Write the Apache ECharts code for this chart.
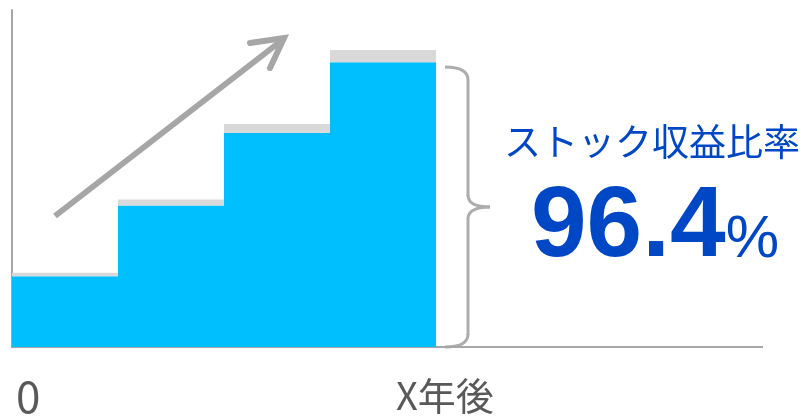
<!DOCTYPE html>
<html>
<head>
<meta charset="utf-8">
<script src="https://cdn.jsdelivr.net/npm/echarts@6/dist/echarts.min.js"></script>
<style>
  html, body { margin: 0; padding: 0; background: #fff; }
  #main { width: 807px; height: 420px; }
</style>
</head>
<body>
<div id="main"></div>
<script>
// steps (only the first 4 bands are filled, the rest keeps the axis long)
const categories = ['1', '2', '3', '4', '', '', ''];
const stockValues = [21, 42, 63.5, 84.5];
const capValues = [1, 1.8, 2.7, 3.6];
const xLabels = ['0', 'X年後'];
const caption = 'ストック収益比率';
const rateValue = '96.4';

const gray = '#A6A6A6';
const braceGray = '#ADADAD';
const blue = '#0047C6';
const cyan = '#00BFFF';
const capGray = '#D9D9D9';

function curve(x1, y1, cx, cy, x2, y2) {
    return {
        type: 'bezierCurve',
        shape: { x1: x1, y1: y1, cpx1: cx, cpy1: cy, x2: x2, y2: y2 },
        style: { stroke: braceGray, lineWidth: 3, fill: null }
    };
}
function seg(x1, y1, x2, y2, color, w) {
    return { type: 'line', shape: { x1: x1, y1: y1, x2: x2, y2: y2 }, style: { stroke: color, lineWidth: w } };
}

const chart = echarts.init(document.getElementById('main'));

chart.setOption({
    animation: false,
    // 7 bands of 106px so the step edges fall on whole pixels
    grid: { left: 12, right: 53, top: 10, bottom: 73 },
    xAxis: {
        type: 'category',
        data: categories,
        axisLine: { lineStyle: { color: gray, width: 2 } },
        axisTick: { show: false },
        axisLabel: { show: false }
    },
    yAxis: {
        type: 'value',
        min: 0,
        max: 100,
        axisLine: { show: true, lineStyle: { color: gray, width: 2 } },
        axisLabel: { show: false },
        axisTick: { show: false },
        splitLine: { show: false }
    },
    series: [
        {
            type: 'bar',
            stack: 's',
            data: stockValues,
            barWidth: '100%',
            barCategoryGap: 0,
            itemStyle: { color: cyan }
        },
        {
            type: 'bar',
            stack: 's',
            data: capValues,
            barWidth: '100%',
            itemStyle: { color: capGray }
        }
    ],
    graphic: [
        // rest of the x axis line
        seg(753, 347, 763, 347, gray, 2),
        // arrow
        seg(55, 216, 281, 41, gray, 6),
        {
            type: 'polyline',
            shape: { points: [[250, 43], [284, 38], [270, 68]] },
            style: { stroke: gray, lineWidth: 6, fill: null, lineCap: 'round', lineJoin: 'miter' }
        },
        // brace
        curve(445, 67, 468, 67, 468, 80),
        seg(468, 80, 468, 196, braceGray, 3),
        curve(468, 195, 468, 207, 490, 207),
        curve(490, 207, 468, 207, 468, 219),
        seg(468, 218, 468, 335, braceGray, 3),
        curve(468, 334, 468, 347, 445, 347),
        {
            type: 'text',
            left: 504,
            top: 123,
            style: { text: caption, fontSize: 37, fill: blue, fontFamily: 'Noto Sans CJK JP' }
        },
        {
            type: 'text',
            left: 531,
            top: 178,
            style: {
                text: '{n|' + rateValue + '}{p|%}',
                rich: {
                    n: { fontSize: 100, fontWeight: 'bold', fill: blue, fontFamily: 'Liberation Sans', verticalAlign: 'bottom' },
                    p: { fontSize: 60, fill: blue, fontFamily: 'Liberation Sans', verticalAlign: 'bottom', padding: [0, 0, 8, 0] }
                }
            }
        },
        {
            type: 'text',
            left: 16,
            top: 374,
            style: { text: xLabels[0], fontSize: 44, fill: '#595959', fontFamily: 'Noto Sans CJK JP' }
        },
        {
            type: 'text',
            left: 396,
            top: 377,
            style: { text: xLabels[1], fontSize: 38, fill: '#595959', fontFamily: 'Noto Sans CJK JP' }
        }
    ]
});
</script>
</body>
</html>
